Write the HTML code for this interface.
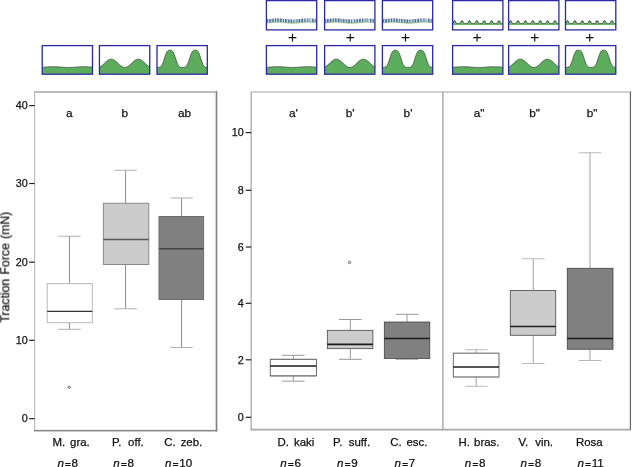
<!DOCTYPE html>
<html><head><meta charset="utf-8"><title>Traction force boxplots</title>
<style>
html,body{margin:0;padding:0;background:#fff;}
body{width:632px;height:467px;overflow:hidden;}
svg{display:block;font-family:'Liberation Sans', Arial, Helvetica, sans-serif;}
text{filter:blur(0.3px);stroke:#111;stroke-width:0.25px;}
</style></head><body>
<svg width="632" height="467" viewBox="0 0 632 467">
<rect width="632" height="467" fill="#ffffff"/>
<path d="M42.20 67.32 L42.92 67.27 L43.64 67.22 L44.36 67.17 L45.07 67.12 L45.79 67.06 L46.51 67.00 L47.23 66.95 L47.95 66.90 L48.67 66.85 L49.39 66.81 L50.10 66.77 L50.82 66.74 L51.54 66.72 L52.26 66.71 L52.98 66.70 L53.70 66.70 L54.42 66.71 L55.13 66.73 L55.85 66.75 L56.57 66.79 L57.29 66.83 L58.01 66.87 L58.73 66.92 L59.45 66.97 L60.16 67.03 L60.88 67.08 L61.60 67.14 L62.32 67.19 L63.04 67.24 L63.76 67.29 L64.48 67.33 L65.19 67.37 L65.91 67.40 L66.63 67.43 L67.35 67.44 L68.07 67.45 L68.79 67.45 L69.51 67.44 L70.22 67.42 L70.94 67.40 L71.66 67.37 L72.38 67.33 L73.10 67.29 L73.82 67.24 L74.54 67.19 L75.25 67.13 L75.97 67.08 L76.69 67.02 L77.41 66.97 L78.13 66.92 L78.85 66.87 L79.57 66.82 L80.28 66.78 L81.00 66.75 L81.72 66.73 L82.44 66.71 L83.16 66.70 L83.88 66.70 L84.60 66.71 L85.31 66.72 L86.03 66.75 L86.75 66.78 L87.47 66.81 L88.19 66.86 L88.91 66.90 L89.63 66.96 L90.34 67.01 L91.06 67.06 L91.78 67.12 L92.50 67.17 L92.50 74.20 L42.20 74.20 Z" fill="#5dac5d"/>
<path d="M42.20 67.32 L42.92 67.27 L43.64 67.22 L44.36 67.17 L45.07 67.12 L45.79 67.06 L46.51 67.00 L47.23 66.95 L47.95 66.90 L48.67 66.85 L49.39 66.81 L50.10 66.77 L50.82 66.74 L51.54 66.72 L52.26 66.71 L52.98 66.70 L53.70 66.70 L54.42 66.71 L55.13 66.73 L55.85 66.75 L56.57 66.79 L57.29 66.83 L58.01 66.87 L58.73 66.92 L59.45 66.97 L60.16 67.03 L60.88 67.08 L61.60 67.14 L62.32 67.19 L63.04 67.24 L63.76 67.29 L64.48 67.33 L65.19 67.37 L65.91 67.40 L66.63 67.43 L67.35 67.44 L68.07 67.45 L68.79 67.45 L69.51 67.44 L70.22 67.42 L70.94 67.40 L71.66 67.37 L72.38 67.33 L73.10 67.29 L73.82 67.24 L74.54 67.19 L75.25 67.13 L75.97 67.08 L76.69 67.02 L77.41 66.97 L78.13 66.92 L78.85 66.87 L79.57 66.82 L80.28 66.78 L81.00 66.75 L81.72 66.73 L82.44 66.71 L83.16 66.70 L83.88 66.70 L84.60 66.71 L85.31 66.72 L86.03 66.75 L86.75 66.78 L87.47 66.81 L88.19 66.86 L88.91 66.90 L89.63 66.96 L90.34 67.01 L91.06 67.06 L91.78 67.12 L92.50 67.17" fill="none" stroke="#3a4a38" stroke-width="0.75"/>
<rect x="42.20" y="45.60" width="50.30" height="28.60" fill="none" stroke="#2a2aa6" stroke-width="1.3"/>
<path d="M99.45 67.09 L100.17 66.76 L100.89 66.33 L101.61 65.82 L102.32 65.24 L103.04 64.61 L103.76 63.94 L104.48 63.25 L105.20 62.56 L105.92 61.89 L106.64 61.26 L107.35 60.69 L108.07 60.19 L108.79 59.78 L109.51 59.46 L110.23 59.25 L110.95 59.16 L111.67 59.17 L112.38 59.31 L113.10 59.55 L113.82 59.89 L114.54 60.33 L115.26 60.86 L115.98 61.45 L116.70 62.09 L117.41 62.76 L118.13 63.45 L118.85 64.14 L119.57 64.80 L120.29 65.42 L121.01 65.98 L121.73 66.47 L122.44 66.87 L123.16 67.17 L123.88 67.37 L124.60 67.45 L125.32 67.41 L126.04 67.27 L126.76 67.01 L127.47 66.65 L128.19 66.20 L128.91 65.66 L129.63 65.07 L130.35 64.42 L131.07 63.74 L131.79 63.05 L132.50 62.37 L133.22 61.71 L133.94 61.09 L134.66 60.54 L135.38 60.07 L136.10 59.68 L136.82 59.39 L137.53 59.22 L138.25 59.15 L138.97 59.20 L139.69 59.36 L140.41 59.64 L141.13 60.01 L141.85 60.48 L142.56 61.02 L143.28 61.62 L144.00 62.28 L144.72 62.96 L145.44 63.65 L146.16 64.33 L146.88 64.98 L147.59 65.59 L148.31 66.13 L149.03 66.59 L149.75 66.97 L149.75 74.20 L99.45 74.20 Z" fill="#5dac5d"/>
<path d="M99.45 67.09 L100.17 66.76 L100.89 66.33 L101.61 65.82 L102.32 65.24 L103.04 64.61 L103.76 63.94 L104.48 63.25 L105.20 62.56 L105.92 61.89 L106.64 61.26 L107.35 60.69 L108.07 60.19 L108.79 59.78 L109.51 59.46 L110.23 59.25 L110.95 59.16 L111.67 59.17 L112.38 59.31 L113.10 59.55 L113.82 59.89 L114.54 60.33 L115.26 60.86 L115.98 61.45 L116.70 62.09 L117.41 62.76 L118.13 63.45 L118.85 64.14 L119.57 64.80 L120.29 65.42 L121.01 65.98 L121.73 66.47 L122.44 66.87 L123.16 67.17 L123.88 67.37 L124.60 67.45 L125.32 67.41 L126.04 67.27 L126.76 67.01 L127.47 66.65 L128.19 66.20 L128.91 65.66 L129.63 65.07 L130.35 64.42 L131.07 63.74 L131.79 63.05 L132.50 62.37 L133.22 61.71 L133.94 61.09 L134.66 60.54 L135.38 60.07 L136.10 59.68 L136.82 59.39 L137.53 59.22 L138.25 59.15 L138.97 59.20 L139.69 59.36 L140.41 59.64 L141.13 60.01 L141.85 60.48 L142.56 61.02 L143.28 61.62 L144.00 62.28 L144.72 62.96 L145.44 63.65 L146.16 64.33 L146.88 64.98 L147.59 65.59 L148.31 66.13 L149.03 66.59 L149.75 66.97" fill="none" stroke="#3a4a38" stroke-width="0.75"/>
<rect x="99.45" y="45.60" width="50.30" height="28.60" fill="none" stroke="#2a2aa6" stroke-width="1.3"/>
<path d="M157.00 67.45 L157.72 67.43 L158.44 67.40 L159.16 67.30 L159.87 67.09 L160.59 66.68 L161.31 65.96 L162.03 64.85 L162.75 63.30 L163.47 61.36 L164.19 59.16 L164.90 56.91 L165.62 54.81 L166.34 53.05 L167.06 51.72 L167.78 50.85 L168.50 50.37 L169.22 50.18 L169.93 50.15 L170.65 50.17 L171.37 50.32 L172.09 50.73 L172.81 51.53 L173.53 52.77 L174.25 54.46 L174.96 56.50 L175.68 58.74 L176.40 60.97 L177.12 62.97 L177.84 64.60 L178.56 65.79 L179.28 66.58 L179.99 67.04 L180.71 67.28 L181.43 67.38 L182.15 67.42 L182.87 67.43 L183.59 67.40 L184.31 67.31 L185.02 67.11 L185.74 66.72 L186.46 66.03 L187.18 64.94 L187.90 63.42 L188.62 61.50 L189.34 59.32 L190.05 57.06 L190.77 54.95 L191.49 53.16 L192.21 51.80 L192.93 50.89 L193.65 50.39 L194.37 50.19 L195.08 50.15 L195.80 50.16 L196.52 50.30 L197.24 50.69 L197.96 51.46 L198.68 52.67 L199.40 54.33 L200.11 56.35 L200.83 58.59 L201.55 60.82 L202.27 62.84 L202.99 64.50 L203.71 65.72 L204.43 66.53 L205.14 67.01 L205.86 67.26 L206.58 67.38 L207.30 67.43 L207.30 74.20 L157.00 74.20 Z" fill="#5dac5d"/>
<path d="M157.00 67.45 L157.72 67.43 L158.44 67.40 L159.16 67.30 L159.87 67.09 L160.59 66.68 L161.31 65.96 L162.03 64.85 L162.75 63.30 L163.47 61.36 L164.19 59.16 L164.90 56.91 L165.62 54.81 L166.34 53.05 L167.06 51.72 L167.78 50.85 L168.50 50.37 L169.22 50.18 L169.93 50.15 L170.65 50.17 L171.37 50.32 L172.09 50.73 L172.81 51.53 L173.53 52.77 L174.25 54.46 L174.96 56.50 L175.68 58.74 L176.40 60.97 L177.12 62.97 L177.84 64.60 L178.56 65.79 L179.28 66.58 L179.99 67.04 L180.71 67.28 L181.43 67.38 L182.15 67.42 L182.87 67.43 L183.59 67.40 L184.31 67.31 L185.02 67.11 L185.74 66.72 L186.46 66.03 L187.18 64.94 L187.90 63.42 L188.62 61.50 L189.34 59.32 L190.05 57.06 L190.77 54.95 L191.49 53.16 L192.21 51.80 L192.93 50.89 L193.65 50.39 L194.37 50.19 L195.08 50.15 L195.80 50.16 L196.52 50.30 L197.24 50.69 L197.96 51.46 L198.68 52.67 L199.40 54.33 L200.11 56.35 L200.83 58.59 L201.55 60.82 L202.27 62.84 L202.99 64.50 L203.71 65.72 L204.43 66.53 L205.14 67.01 L205.86 67.26 L206.58 67.38 L207.30 67.43" fill="none" stroke="#3a4a38" stroke-width="0.75"/>
<rect x="157.00" y="45.60" width="50.30" height="28.60" fill="none" stroke="#2a2aa6" stroke-width="1.3"/>
<line x1="267.61" y1="19.14" x2="267.61" y2="22.74" stroke="#1f4c7c" stroke-width="0.85" stroke-opacity="1.00"/>
<line x1="269.24" y1="18.96" x2="269.24" y2="22.56" stroke="#1f4c7c" stroke-width="0.85" stroke-opacity="1.00"/>
<line x1="270.67" y1="18.80" x2="270.67" y2="22.40" stroke="#1f4c7c" stroke-width="0.85" stroke-opacity="1.00"/>
<line x1="272.27" y1="18.63" x2="272.27" y2="22.23" stroke="#1f4c7c" stroke-width="0.85" stroke-opacity="1.00"/>
<line x1="273.84" y1="18.49" x2="273.84" y2="22.09" stroke="#1f4c7c" stroke-width="0.85" stroke-opacity="1.00"/>
<line x1="275.51" y1="18.39" x2="275.51" y2="21.99" stroke="#1f4c7c" stroke-width="0.85" stroke-opacity="1.00"/>
<line x1="277.21" y1="18.35" x2="277.21" y2="21.95" stroke="#1f4c7c" stroke-width="0.85" stroke-opacity="1.00"/>
<line x1="278.70" y1="18.37" x2="278.70" y2="21.97" stroke="#1f4c7c" stroke-width="0.85" stroke-opacity="1.00"/>
<line x1="280.38" y1="18.45" x2="280.38" y2="22.05" stroke="#1f4c7c" stroke-width="0.85" stroke-opacity="1.00"/>
<line x1="281.82" y1="18.56" x2="281.82" y2="22.16" stroke="#1f4c7c" stroke-width="0.85" stroke-opacity="1.00"/>
<line x1="283.67" y1="18.75" x2="283.67" y2="22.35" stroke="#1f4c7c" stroke-width="0.85" stroke-opacity="1.00"/>
<line x1="285.41" y1="18.95" x2="285.41" y2="22.55" stroke="#1f4c7c" stroke-width="0.85" stroke-opacity="1.00"/>
<line x1="286.82" y1="19.10" x2="286.82" y2="22.70" stroke="#1f4c7c" stroke-width="0.85" stroke-opacity="1.00"/>
<line x1="288.61" y1="19.27" x2="288.61" y2="22.87" stroke="#1f4c7c" stroke-width="0.85" stroke-opacity="1.00"/>
<line x1="289.99" y1="19.37" x2="289.99" y2="22.97" stroke="#1f4c7c" stroke-width="0.85" stroke-opacity="1.00"/>
<line x1="291.44" y1="19.43" x2="291.44" y2="23.03" stroke="#1f4c7c" stroke-width="0.85" stroke-opacity="1.00"/>
<line x1="293.16" y1="19.45" x2="293.16" y2="23.05" stroke="#1f4c7c" stroke-width="0.85" stroke-opacity="1.00"/>
<line x1="294.63" y1="19.40" x2="294.63" y2="23.00" stroke="#1f4c7c" stroke-width="0.85" stroke-opacity="0.55"/>
<line x1="296.16" y1="19.31" x2="296.16" y2="22.91" stroke="#1f4c7c" stroke-width="0.85" stroke-opacity="1.00"/>
<line x1="297.95" y1="19.15" x2="297.95" y2="22.75" stroke="#1f4c7c" stroke-width="0.85" stroke-opacity="1.00"/>
<line x1="299.44" y1="18.99" x2="299.44" y2="22.59" stroke="#1f4c7c" stroke-width="0.85" stroke-opacity="1.00"/>
<line x1="301.20" y1="18.79" x2="301.20" y2="22.39" stroke="#1f4c7c" stroke-width="0.85" stroke-opacity="1.00"/>
<line x1="302.46" y1="18.65" x2="302.46" y2="22.25" stroke="#1f4c7c" stroke-width="0.85" stroke-opacity="1.00"/>
<line x1="304.27" y1="18.49" x2="304.27" y2="22.09" stroke="#1f4c7c" stroke-width="0.85" stroke-opacity="1.00"/>
<line x1="305.82" y1="18.40" x2="305.82" y2="22.00" stroke="#1f4c7c" stroke-width="0.85" stroke-opacity="0.85"/>
<line x1="307.43" y1="18.35" x2="307.43" y2="21.95" stroke="#1f4c7c" stroke-width="0.85" stroke-opacity="0.70"/>
<line x1="308.97" y1="18.37" x2="308.97" y2="21.97" stroke="#1f4c7c" stroke-width="0.85" stroke-opacity="1.00"/>
<line x1="310.78" y1="18.45" x2="310.78" y2="22.05" stroke="#1f4c7c" stroke-width="0.85" stroke-opacity="0.55"/>
<line x1="312.36" y1="18.58" x2="312.36" y2="22.18" stroke="#1f4c7c" stroke-width="0.85" stroke-opacity="1.00"/>
<line x1="313.85" y1="18.73" x2="313.85" y2="22.33" stroke="#1f4c7c" stroke-width="0.85" stroke-opacity="1.00"/>
<line x1="315.40" y1="18.90" x2="315.40" y2="22.50" stroke="#1f4c7c" stroke-width="0.85" stroke-opacity="0.85"/>
<path d="M266.80 23.02 L268.86 22.81 L270.93 22.57 L272.99 22.36 L275.05 22.21 L277.11 22.15 L279.18 22.19 L281.24 22.31 L283.30 22.51 L285.36 22.74 L287.43 22.96 L289.49 23.14 L291.55 23.24 L293.61 23.24 L295.68 23.14 L297.74 22.97 L299.80 22.75 L301.86 22.51 L303.93 22.32 L305.99 22.19 L308.05 22.15 L310.11 22.21 L312.18 22.36 L314.24 22.57 L316.30 22.80" fill="none" stroke="#6fae6f" stroke-width="0.7"/>
<rect x="266.40" y="0.60" width="50.30" height="29.30" fill="none" stroke="#2a2aa6" stroke-width="1.3"/>
<path d="M266.40 67.32 L267.12 67.27 L267.84 67.22 L268.56 67.17 L269.27 67.12 L269.99 67.06 L270.71 67.00 L271.43 66.95 L272.15 66.90 L272.87 66.85 L273.59 66.81 L274.30 66.77 L275.02 66.74 L275.74 66.72 L276.46 66.71 L277.18 66.70 L277.90 66.70 L278.62 66.71 L279.33 66.73 L280.05 66.75 L280.77 66.79 L281.49 66.83 L282.21 66.87 L282.93 66.92 L283.65 66.97 L284.36 67.03 L285.08 67.08 L285.80 67.14 L286.52 67.19 L287.24 67.24 L287.96 67.29 L288.68 67.33 L289.39 67.37 L290.11 67.40 L290.83 67.43 L291.55 67.44 L292.27 67.45 L292.99 67.45 L293.71 67.44 L294.42 67.42 L295.14 67.40 L295.86 67.37 L296.58 67.33 L297.30 67.29 L298.02 67.24 L298.74 67.19 L299.45 67.13 L300.17 67.08 L300.89 67.02 L301.61 66.97 L302.33 66.92 L303.05 66.87 L303.77 66.82 L304.48 66.78 L305.20 66.75 L305.92 66.73 L306.64 66.71 L307.36 66.70 L308.08 66.70 L308.80 66.71 L309.51 66.72 L310.23 66.75 L310.95 66.78 L311.67 66.81 L312.39 66.86 L313.11 66.90 L313.83 66.96 L314.54 67.01 L315.26 67.06 L315.98 67.12 L316.70 67.17 L316.70 74.20 L266.40 74.20 Z" fill="#5dac5d"/>
<path d="M266.40 67.32 L267.12 67.27 L267.84 67.22 L268.56 67.17 L269.27 67.12 L269.99 67.06 L270.71 67.00 L271.43 66.95 L272.15 66.90 L272.87 66.85 L273.59 66.81 L274.30 66.77 L275.02 66.74 L275.74 66.72 L276.46 66.71 L277.18 66.70 L277.90 66.70 L278.62 66.71 L279.33 66.73 L280.05 66.75 L280.77 66.79 L281.49 66.83 L282.21 66.87 L282.93 66.92 L283.65 66.97 L284.36 67.03 L285.08 67.08 L285.80 67.14 L286.52 67.19 L287.24 67.24 L287.96 67.29 L288.68 67.33 L289.39 67.37 L290.11 67.40 L290.83 67.43 L291.55 67.44 L292.27 67.45 L292.99 67.45 L293.71 67.44 L294.42 67.42 L295.14 67.40 L295.86 67.37 L296.58 67.33 L297.30 67.29 L298.02 67.24 L298.74 67.19 L299.45 67.13 L300.17 67.08 L300.89 67.02 L301.61 66.97 L302.33 66.92 L303.05 66.87 L303.77 66.82 L304.48 66.78 L305.20 66.75 L305.92 66.73 L306.64 66.71 L307.36 66.70 L308.08 66.70 L308.80 66.71 L309.51 66.72 L310.23 66.75 L310.95 66.78 L311.67 66.81 L312.39 66.86 L313.11 66.90 L313.83 66.96 L314.54 67.01 L315.26 67.06 L315.98 67.12 L316.70 67.17" fill="none" stroke="#3a4a38" stroke-width="0.75"/>
<rect x="266.40" y="45.60" width="50.30" height="28.60" fill="none" stroke="#2a2aa6" stroke-width="1.3"/>
<path d="M288.65 37.60 H296.35 M292.50 33.75 V41.45" stroke="#111" stroke-width="1.15" fill="none"/>
<line x1="325.81" y1="19.14" x2="325.81" y2="22.74" stroke="#1f4c7c" stroke-width="0.85" stroke-opacity="1.00"/>
<line x1="327.44" y1="18.96" x2="327.44" y2="22.56" stroke="#1f4c7c" stroke-width="0.85" stroke-opacity="1.00"/>
<line x1="328.87" y1="18.80" x2="328.87" y2="22.40" stroke="#1f4c7c" stroke-width="0.85" stroke-opacity="1.00"/>
<line x1="330.47" y1="18.63" x2="330.47" y2="22.23" stroke="#1f4c7c" stroke-width="0.85" stroke-opacity="1.00"/>
<line x1="332.04" y1="18.49" x2="332.04" y2="22.09" stroke="#1f4c7c" stroke-width="0.85" stroke-opacity="1.00"/>
<line x1="333.71" y1="18.39" x2="333.71" y2="21.99" stroke="#1f4c7c" stroke-width="0.85" stroke-opacity="1.00"/>
<line x1="335.41" y1="18.35" x2="335.41" y2="21.95" stroke="#1f4c7c" stroke-width="0.85" stroke-opacity="1.00"/>
<line x1="336.90" y1="18.37" x2="336.90" y2="21.97" stroke="#1f4c7c" stroke-width="0.85" stroke-opacity="1.00"/>
<line x1="338.58" y1="18.45" x2="338.58" y2="22.05" stroke="#1f4c7c" stroke-width="0.85" stroke-opacity="1.00"/>
<line x1="340.02" y1="18.56" x2="340.02" y2="22.16" stroke="#1f4c7c" stroke-width="0.85" stroke-opacity="1.00"/>
<line x1="341.87" y1="18.75" x2="341.87" y2="22.35" stroke="#1f4c7c" stroke-width="0.85" stroke-opacity="1.00"/>
<line x1="343.61" y1="18.95" x2="343.61" y2="22.55" stroke="#1f4c7c" stroke-width="0.85" stroke-opacity="1.00"/>
<line x1="345.02" y1="19.10" x2="345.02" y2="22.70" stroke="#1f4c7c" stroke-width="0.85" stroke-opacity="1.00"/>
<line x1="346.81" y1="19.27" x2="346.81" y2="22.87" stroke="#1f4c7c" stroke-width="0.85" stroke-opacity="1.00"/>
<line x1="348.19" y1="19.37" x2="348.19" y2="22.97" stroke="#1f4c7c" stroke-width="0.85" stroke-opacity="1.00"/>
<line x1="349.64" y1="19.43" x2="349.64" y2="23.03" stroke="#1f4c7c" stroke-width="0.85" stroke-opacity="1.00"/>
<line x1="351.36" y1="19.45" x2="351.36" y2="23.05" stroke="#1f4c7c" stroke-width="0.85" stroke-opacity="1.00"/>
<line x1="352.83" y1="19.40" x2="352.83" y2="23.00" stroke="#1f4c7c" stroke-width="0.85" stroke-opacity="0.55"/>
<line x1="354.36" y1="19.31" x2="354.36" y2="22.91" stroke="#1f4c7c" stroke-width="0.85" stroke-opacity="1.00"/>
<line x1="356.15" y1="19.15" x2="356.15" y2="22.75" stroke="#1f4c7c" stroke-width="0.85" stroke-opacity="1.00"/>
<line x1="357.64" y1="18.99" x2="357.64" y2="22.59" stroke="#1f4c7c" stroke-width="0.85" stroke-opacity="1.00"/>
<line x1="359.40" y1="18.79" x2="359.40" y2="22.39" stroke="#1f4c7c" stroke-width="0.85" stroke-opacity="1.00"/>
<line x1="360.66" y1="18.65" x2="360.66" y2="22.25" stroke="#1f4c7c" stroke-width="0.85" stroke-opacity="1.00"/>
<line x1="362.47" y1="18.49" x2="362.47" y2="22.09" stroke="#1f4c7c" stroke-width="0.85" stroke-opacity="1.00"/>
<line x1="364.02" y1="18.40" x2="364.02" y2="22.00" stroke="#1f4c7c" stroke-width="0.85" stroke-opacity="0.85"/>
<line x1="365.63" y1="18.35" x2="365.63" y2="21.95" stroke="#1f4c7c" stroke-width="0.85" stroke-opacity="0.70"/>
<line x1="367.17" y1="18.37" x2="367.17" y2="21.97" stroke="#1f4c7c" stroke-width="0.85" stroke-opacity="1.00"/>
<line x1="368.98" y1="18.45" x2="368.98" y2="22.05" stroke="#1f4c7c" stroke-width="0.85" stroke-opacity="0.55"/>
<line x1="370.56" y1="18.58" x2="370.56" y2="22.18" stroke="#1f4c7c" stroke-width="0.85" stroke-opacity="1.00"/>
<line x1="372.05" y1="18.73" x2="372.05" y2="22.33" stroke="#1f4c7c" stroke-width="0.85" stroke-opacity="1.00"/>
<line x1="373.60" y1="18.90" x2="373.60" y2="22.50" stroke="#1f4c7c" stroke-width="0.85" stroke-opacity="0.85"/>
<path d="M325.00 23.02 L327.06 22.81 L329.12 22.57 L331.19 22.36 L333.25 22.21 L335.31 22.15 L337.38 22.19 L339.44 22.31 L341.50 22.51 L343.56 22.74 L345.62 22.96 L347.69 23.14 L349.75 23.24 L351.81 23.24 L353.88 23.14 L355.94 22.97 L358.00 22.75 L360.06 22.51 L362.12 22.32 L364.19 22.19 L366.25 22.15 L368.31 22.21 L370.38 22.36 L372.44 22.57 L374.50 22.80" fill="none" stroke="#6fae6f" stroke-width="0.7"/>
<rect x="324.60" y="0.60" width="50.30" height="29.30" fill="none" stroke="#2a2aa6" stroke-width="1.3"/>
<path d="M324.60 67.09 L325.32 66.76 L326.04 66.33 L326.76 65.82 L327.47 65.24 L328.19 64.61 L328.91 63.94 L329.63 63.25 L330.35 62.56 L331.07 61.89 L331.79 61.26 L332.50 60.69 L333.22 60.19 L333.94 59.78 L334.66 59.46 L335.38 59.25 L336.10 59.16 L336.82 59.17 L337.53 59.31 L338.25 59.55 L338.97 59.89 L339.69 60.33 L340.41 60.86 L341.13 61.45 L341.85 62.09 L342.56 62.76 L343.28 63.45 L344.00 64.14 L344.72 64.80 L345.44 65.42 L346.16 65.98 L346.88 66.47 L347.59 66.87 L348.31 67.17 L349.03 67.37 L349.75 67.45 L350.47 67.41 L351.19 67.27 L351.91 67.01 L352.62 66.65 L353.34 66.20 L354.06 65.66 L354.78 65.07 L355.50 64.42 L356.22 63.74 L356.94 63.05 L357.65 62.37 L358.37 61.71 L359.09 61.09 L359.81 60.54 L360.53 60.07 L361.25 59.68 L361.97 59.39 L362.68 59.22 L363.40 59.15 L364.12 59.20 L364.84 59.36 L365.56 59.64 L366.28 60.01 L367.00 60.48 L367.71 61.02 L368.43 61.62 L369.15 62.28 L369.87 62.96 L370.59 63.65 L371.31 64.33 L372.03 64.98 L372.74 65.59 L373.46 66.13 L374.18 66.59 L374.90 66.97 L374.90 74.20 L324.60 74.20 Z" fill="#5dac5d"/>
<path d="M324.60 67.09 L325.32 66.76 L326.04 66.33 L326.76 65.82 L327.47 65.24 L328.19 64.61 L328.91 63.94 L329.63 63.25 L330.35 62.56 L331.07 61.89 L331.79 61.26 L332.50 60.69 L333.22 60.19 L333.94 59.78 L334.66 59.46 L335.38 59.25 L336.10 59.16 L336.82 59.17 L337.53 59.31 L338.25 59.55 L338.97 59.89 L339.69 60.33 L340.41 60.86 L341.13 61.45 L341.85 62.09 L342.56 62.76 L343.28 63.45 L344.00 64.14 L344.72 64.80 L345.44 65.42 L346.16 65.98 L346.88 66.47 L347.59 66.87 L348.31 67.17 L349.03 67.37 L349.75 67.45 L350.47 67.41 L351.19 67.27 L351.91 67.01 L352.62 66.65 L353.34 66.20 L354.06 65.66 L354.78 65.07 L355.50 64.42 L356.22 63.74 L356.94 63.05 L357.65 62.37 L358.37 61.71 L359.09 61.09 L359.81 60.54 L360.53 60.07 L361.25 59.68 L361.97 59.39 L362.68 59.22 L363.40 59.15 L364.12 59.20 L364.84 59.36 L365.56 59.64 L366.28 60.01 L367.00 60.48 L367.71 61.02 L368.43 61.62 L369.15 62.28 L369.87 62.96 L370.59 63.65 L371.31 64.33 L372.03 64.98 L372.74 65.59 L373.46 66.13 L374.18 66.59 L374.90 66.97" fill="none" stroke="#3a4a38" stroke-width="0.75"/>
<rect x="324.60" y="45.60" width="50.30" height="28.60" fill="none" stroke="#2a2aa6" stroke-width="1.3"/>
<path d="M346.40 37.60 H354.10 M350.25 33.75 V41.45" stroke="#111" stroke-width="1.15" fill="none"/>
<line x1="383.61" y1="19.14" x2="383.61" y2="22.74" stroke="#1f4c7c" stroke-width="0.85" stroke-opacity="1.00"/>
<line x1="385.24" y1="18.96" x2="385.24" y2="22.56" stroke="#1f4c7c" stroke-width="0.85" stroke-opacity="1.00"/>
<line x1="386.67" y1="18.80" x2="386.67" y2="22.40" stroke="#1f4c7c" stroke-width="0.85" stroke-opacity="1.00"/>
<line x1="388.27" y1="18.63" x2="388.27" y2="22.23" stroke="#1f4c7c" stroke-width="0.85" stroke-opacity="1.00"/>
<line x1="389.84" y1="18.49" x2="389.84" y2="22.09" stroke="#1f4c7c" stroke-width="0.85" stroke-opacity="1.00"/>
<line x1="391.51" y1="18.39" x2="391.51" y2="21.99" stroke="#1f4c7c" stroke-width="0.85" stroke-opacity="1.00"/>
<line x1="393.21" y1="18.35" x2="393.21" y2="21.95" stroke="#1f4c7c" stroke-width="0.85" stroke-opacity="1.00"/>
<line x1="394.70" y1="18.37" x2="394.70" y2="21.97" stroke="#1f4c7c" stroke-width="0.85" stroke-opacity="1.00"/>
<line x1="396.38" y1="18.45" x2="396.38" y2="22.05" stroke="#1f4c7c" stroke-width="0.85" stroke-opacity="1.00"/>
<line x1="397.82" y1="18.56" x2="397.82" y2="22.16" stroke="#1f4c7c" stroke-width="0.85" stroke-opacity="1.00"/>
<line x1="399.67" y1="18.75" x2="399.67" y2="22.35" stroke="#1f4c7c" stroke-width="0.85" stroke-opacity="1.00"/>
<line x1="401.41" y1="18.95" x2="401.41" y2="22.55" stroke="#1f4c7c" stroke-width="0.85" stroke-opacity="1.00"/>
<line x1="402.82" y1="19.10" x2="402.82" y2="22.70" stroke="#1f4c7c" stroke-width="0.85" stroke-opacity="1.00"/>
<line x1="404.61" y1="19.27" x2="404.61" y2="22.87" stroke="#1f4c7c" stroke-width="0.85" stroke-opacity="1.00"/>
<line x1="405.99" y1="19.37" x2="405.99" y2="22.97" stroke="#1f4c7c" stroke-width="0.85" stroke-opacity="1.00"/>
<line x1="407.44" y1="19.43" x2="407.44" y2="23.03" stroke="#1f4c7c" stroke-width="0.85" stroke-opacity="1.00"/>
<line x1="409.16" y1="19.45" x2="409.16" y2="23.05" stroke="#1f4c7c" stroke-width="0.85" stroke-opacity="1.00"/>
<line x1="410.63" y1="19.40" x2="410.63" y2="23.00" stroke="#1f4c7c" stroke-width="0.85" stroke-opacity="0.55"/>
<line x1="412.16" y1="19.31" x2="412.16" y2="22.91" stroke="#1f4c7c" stroke-width="0.85" stroke-opacity="1.00"/>
<line x1="413.95" y1="19.15" x2="413.95" y2="22.75" stroke="#1f4c7c" stroke-width="0.85" stroke-opacity="1.00"/>
<line x1="415.44" y1="18.99" x2="415.44" y2="22.59" stroke="#1f4c7c" stroke-width="0.85" stroke-opacity="1.00"/>
<line x1="417.20" y1="18.79" x2="417.20" y2="22.39" stroke="#1f4c7c" stroke-width="0.85" stroke-opacity="1.00"/>
<line x1="418.46" y1="18.65" x2="418.46" y2="22.25" stroke="#1f4c7c" stroke-width="0.85" stroke-opacity="1.00"/>
<line x1="420.27" y1="18.49" x2="420.27" y2="22.09" stroke="#1f4c7c" stroke-width="0.85" stroke-opacity="1.00"/>
<line x1="421.82" y1="18.40" x2="421.82" y2="22.00" stroke="#1f4c7c" stroke-width="0.85" stroke-opacity="0.85"/>
<line x1="423.43" y1="18.35" x2="423.43" y2="21.95" stroke="#1f4c7c" stroke-width="0.85" stroke-opacity="0.70"/>
<line x1="424.97" y1="18.37" x2="424.97" y2="21.97" stroke="#1f4c7c" stroke-width="0.85" stroke-opacity="1.00"/>
<line x1="426.78" y1="18.45" x2="426.78" y2="22.05" stroke="#1f4c7c" stroke-width="0.85" stroke-opacity="0.55"/>
<line x1="428.36" y1="18.58" x2="428.36" y2="22.18" stroke="#1f4c7c" stroke-width="0.85" stroke-opacity="1.00"/>
<line x1="429.85" y1="18.73" x2="429.85" y2="22.33" stroke="#1f4c7c" stroke-width="0.85" stroke-opacity="1.00"/>
<line x1="431.40" y1="18.90" x2="431.40" y2="22.50" stroke="#1f4c7c" stroke-width="0.85" stroke-opacity="0.85"/>
<path d="M382.80 23.02 L384.86 22.81 L386.93 22.57 L388.99 22.36 L391.05 22.21 L393.11 22.15 L395.18 22.19 L397.24 22.31 L399.30 22.51 L401.36 22.74 L403.43 22.96 L405.49 23.14 L407.55 23.24 L409.61 23.24 L411.68 23.14 L413.74 22.97 L415.80 22.75 L417.86 22.51 L419.93 22.32 L421.99 22.19 L424.05 22.15 L426.11 22.21 L428.18 22.36 L430.24 22.57 L432.30 22.80" fill="none" stroke="#6fae6f" stroke-width="0.7"/>
<rect x="382.40" y="0.60" width="50.30" height="29.30" fill="none" stroke="#2a2aa6" stroke-width="1.3"/>
<path d="M382.40 67.45 L383.12 67.43 L383.84 67.40 L384.56 67.30 L385.27 67.09 L385.99 66.68 L386.71 65.96 L387.43 64.85 L388.15 63.30 L388.87 61.36 L389.59 59.16 L390.30 56.91 L391.02 54.81 L391.74 53.05 L392.46 51.72 L393.18 50.85 L393.90 50.37 L394.62 50.18 L395.33 50.15 L396.05 50.17 L396.77 50.32 L397.49 50.73 L398.21 51.53 L398.93 52.77 L399.65 54.46 L400.36 56.50 L401.08 58.74 L401.80 60.97 L402.52 62.97 L403.24 64.60 L403.96 65.79 L404.68 66.58 L405.39 67.04 L406.11 67.28 L406.83 67.38 L407.55 67.42 L408.27 67.43 L408.99 67.40 L409.71 67.31 L410.42 67.11 L411.14 66.72 L411.86 66.03 L412.58 64.94 L413.30 63.42 L414.02 61.50 L414.74 59.32 L415.45 57.06 L416.17 54.95 L416.89 53.16 L417.61 51.80 L418.33 50.89 L419.05 50.39 L419.77 50.19 L420.48 50.15 L421.20 50.16 L421.92 50.30 L422.64 50.69 L423.36 51.46 L424.08 52.67 L424.80 54.33 L425.51 56.35 L426.23 58.59 L426.95 60.82 L427.67 62.84 L428.39 64.50 L429.11 65.72 L429.83 66.53 L430.54 67.01 L431.26 67.26 L431.98 67.38 L432.70 67.43 L432.70 74.20 L382.40 74.20 Z" fill="#5dac5d"/>
<path d="M382.40 67.45 L383.12 67.43 L383.84 67.40 L384.56 67.30 L385.27 67.09 L385.99 66.68 L386.71 65.96 L387.43 64.85 L388.15 63.30 L388.87 61.36 L389.59 59.16 L390.30 56.91 L391.02 54.81 L391.74 53.05 L392.46 51.72 L393.18 50.85 L393.90 50.37 L394.62 50.18 L395.33 50.15 L396.05 50.17 L396.77 50.32 L397.49 50.73 L398.21 51.53 L398.93 52.77 L399.65 54.46 L400.36 56.50 L401.08 58.74 L401.80 60.97 L402.52 62.97 L403.24 64.60 L403.96 65.79 L404.68 66.58 L405.39 67.04 L406.11 67.28 L406.83 67.38 L407.55 67.42 L408.27 67.43 L408.99 67.40 L409.71 67.31 L410.42 67.11 L411.14 66.72 L411.86 66.03 L412.58 64.94 L413.30 63.42 L414.02 61.50 L414.74 59.32 L415.45 57.06 L416.17 54.95 L416.89 53.16 L417.61 51.80 L418.33 50.89 L419.05 50.39 L419.77 50.19 L420.48 50.15 L421.20 50.16 L421.92 50.30 L422.64 50.69 L423.36 51.46 L424.08 52.67 L424.80 54.33 L425.51 56.35 L426.23 58.59 L426.95 60.82 L427.67 62.84 L428.39 64.50 L429.11 65.72 L429.83 66.53 L430.54 67.01 L431.26 67.26 L431.98 67.38 L432.70 67.43" fill="none" stroke="#3a4a38" stroke-width="0.75"/>
<rect x="382.40" y="45.60" width="50.30" height="28.60" fill="none" stroke="#2a2aa6" stroke-width="1.3"/>
<path d="M401.65 37.60 H409.35 M405.50 33.75 V41.45" stroke="#111" stroke-width="1.15" fill="none"/>
<path d="M452.60 23.43 L452.96 23.06 L453.32 22.30 L453.68 21.43 L454.04 20.85 L454.40 20.66 L454.76 20.65 L455.12 20.80 L455.47 21.33 L455.83 22.18 L456.19 22.98 L456.55 23.40 L456.91 23.53 L457.27 23.55 L457.63 23.55 L457.99 23.55 L458.35 23.55 L458.71 23.55 L459.07 23.55 L459.43 23.55 L459.79 23.51 L460.14 23.33 L460.50 22.79 L460.86 21.94 L461.22 21.15 L461.58 20.73 L461.94 20.65 L462.30 20.68 L462.66 20.97 L463.02 21.65 L463.38 22.54 L463.74 23.20 L464.10 23.48 L464.46 23.54 L464.82 23.55 L465.18 23.55 L465.53 23.55 L465.89 23.55 L466.25 23.55 L466.61 23.55 L466.97 23.54 L467.33 23.47 L467.69 23.16 L468.05 22.47 L468.41 21.59 L468.77 20.93 L469.13 20.67 L469.49 20.65 L469.85 20.75 L470.20 21.20 L470.56 22.01 L470.92 22.85 L471.28 23.35 L471.64 23.52 L472.00 23.55 L472.36 23.55 L472.72 23.55 L473.08 23.55 L473.44 23.55 L473.80 23.55 L474.16 23.55 L474.52 23.53 L474.88 23.38 L475.24 22.93 L475.59 22.11 L475.95 21.28 L476.31 20.78 L476.67 20.65 L477.03 20.66 L477.39 20.88 L477.75 21.49 L478.11 22.37 L478.47 23.10 L478.83 23.45 L479.19 23.54 L479.55 23.55 L479.91 23.55 L480.26 23.55 L480.62 23.55 L480.98 23.55 L481.34 23.55 L481.70 23.54 L482.06 23.49 L482.42 23.25 L482.78 22.63 L483.14 21.75 L483.50 21.02 L483.86 20.70 L484.22 20.65 L484.58 20.71 L484.94 21.08 L485.30 21.84 L485.65 22.71 L486.01 23.28 L486.37 23.50 L486.73 23.55 L487.09 23.55 L487.45 23.55 L487.81 23.55 L488.17 23.55 L488.53 23.55 L488.89 23.55 L489.25 23.53 L489.61 23.43 L489.97 23.05 L490.32 22.29 L490.68 21.42 L491.04 20.84 L491.40 20.66 L491.76 20.65 L492.12 20.81 L492.48 21.34 L492.84 22.20 L493.20 22.99 L493.56 23.41 L493.92 23.53 L494.28 23.55 L494.64 23.55 L495.00 23.55 L495.36 23.55 L495.71 23.55 L496.07 23.55 L496.43 23.55 L496.79 23.51 L497.15 23.32 L497.51 22.78 L497.87 21.92 L498.23 21.14 L498.59 20.73 L498.95 20.65 L499.31 20.68 L499.67 20.97 L500.03 21.67 L500.38 22.55 L500.74 23.20 L501.10 23.48 L501.46 23.54 L501.82 23.55 L502.18 23.55 L502.54 23.55 L502.90 23.55 L502.90 25.00 L452.60 25.00 Z" fill="#68bb68"/>
<path d="M452.60 23.43 L452.96 23.06 L453.32 22.30 L453.68 21.43 L454.04 20.85 L454.40 20.66 L454.76 20.65 L455.12 20.80 L455.47 21.33 L455.83 22.18 L456.19 22.98 L456.55 23.40 L456.91 23.53 L457.27 23.55 L457.63 23.55 L457.99 23.55 L458.35 23.55 L458.71 23.55 L459.07 23.55 L459.43 23.55 L459.79 23.51 L460.14 23.33 L460.50 22.79 L460.86 21.94 L461.22 21.15 L461.58 20.73 L461.94 20.65 L462.30 20.68 L462.66 20.97 L463.02 21.65 L463.38 22.54 L463.74 23.20 L464.10 23.48 L464.46 23.54 L464.82 23.55 L465.18 23.55 L465.53 23.55 L465.89 23.55 L466.25 23.55 L466.61 23.55 L466.97 23.54 L467.33 23.47 L467.69 23.16 L468.05 22.47 L468.41 21.59 L468.77 20.93 L469.13 20.67 L469.49 20.65 L469.85 20.75 L470.20 21.20 L470.56 22.01 L470.92 22.85 L471.28 23.35 L471.64 23.52 L472.00 23.55 L472.36 23.55 L472.72 23.55 L473.08 23.55 L473.44 23.55 L473.80 23.55 L474.16 23.55 L474.52 23.53 L474.88 23.38 L475.24 22.93 L475.59 22.11 L475.95 21.28 L476.31 20.78 L476.67 20.65 L477.03 20.66 L477.39 20.88 L477.75 21.49 L478.11 22.37 L478.47 23.10 L478.83 23.45 L479.19 23.54 L479.55 23.55 L479.91 23.55 L480.26 23.55 L480.62 23.55 L480.98 23.55 L481.34 23.55 L481.70 23.54 L482.06 23.49 L482.42 23.25 L482.78 22.63 L483.14 21.75 L483.50 21.02 L483.86 20.70 L484.22 20.65 L484.58 20.71 L484.94 21.08 L485.30 21.84 L485.65 22.71 L486.01 23.28 L486.37 23.50 L486.73 23.55 L487.09 23.55 L487.45 23.55 L487.81 23.55 L488.17 23.55 L488.53 23.55 L488.89 23.55 L489.25 23.53 L489.61 23.43 L489.97 23.05 L490.32 22.29 L490.68 21.42 L491.04 20.84 L491.40 20.66 L491.76 20.65 L492.12 20.81 L492.48 21.34 L492.84 22.20 L493.20 22.99 L493.56 23.41 L493.92 23.53 L494.28 23.55 L494.64 23.55 L495.00 23.55 L495.36 23.55 L495.71 23.55 L496.07 23.55 L496.43 23.55 L496.79 23.51 L497.15 23.32 L497.51 22.78 L497.87 21.92 L498.23 21.14 L498.59 20.73 L498.95 20.65 L499.31 20.68 L499.67 20.97 L500.03 21.67 L500.38 22.55 L500.74 23.20 L501.10 23.48 L501.46 23.54 L501.82 23.55 L502.18 23.55 L502.54 23.55 L502.90 23.55" fill="none" stroke="#2c362c" stroke-width="0.85"/>
<rect x="452.60" y="0.60" width="50.30" height="29.30" fill="none" stroke="#2a2aa6" stroke-width="1.3"/>
<path d="M452.60 67.32 L453.32 67.27 L454.04 67.22 L454.76 67.17 L455.47 67.12 L456.19 67.06 L456.91 67.00 L457.63 66.95 L458.35 66.90 L459.07 66.85 L459.79 66.81 L460.50 66.77 L461.22 66.74 L461.94 66.72 L462.66 66.71 L463.38 66.70 L464.10 66.70 L464.82 66.71 L465.53 66.73 L466.25 66.75 L466.97 66.79 L467.69 66.83 L468.41 66.87 L469.13 66.92 L469.85 66.97 L470.56 67.03 L471.28 67.08 L472.00 67.14 L472.72 67.19 L473.44 67.24 L474.16 67.29 L474.88 67.33 L475.59 67.37 L476.31 67.40 L477.03 67.43 L477.75 67.44 L478.47 67.45 L479.19 67.45 L479.91 67.44 L480.62 67.42 L481.34 67.40 L482.06 67.37 L482.78 67.33 L483.50 67.29 L484.22 67.24 L484.94 67.19 L485.65 67.13 L486.37 67.08 L487.09 67.02 L487.81 66.97 L488.53 66.92 L489.25 66.87 L489.97 66.82 L490.68 66.78 L491.40 66.75 L492.12 66.73 L492.84 66.71 L493.56 66.70 L494.28 66.70 L495.00 66.71 L495.71 66.72 L496.43 66.75 L497.15 66.78 L497.87 66.81 L498.59 66.86 L499.31 66.90 L500.03 66.96 L500.74 67.01 L501.46 67.06 L502.18 67.12 L502.90 67.17 L502.90 74.20 L452.60 74.20 Z" fill="#5dac5d"/>
<path d="M452.60 67.32 L453.32 67.27 L454.04 67.22 L454.76 67.17 L455.47 67.12 L456.19 67.06 L456.91 67.00 L457.63 66.95 L458.35 66.90 L459.07 66.85 L459.79 66.81 L460.50 66.77 L461.22 66.74 L461.94 66.72 L462.66 66.71 L463.38 66.70 L464.10 66.70 L464.82 66.71 L465.53 66.73 L466.25 66.75 L466.97 66.79 L467.69 66.83 L468.41 66.87 L469.13 66.92 L469.85 66.97 L470.56 67.03 L471.28 67.08 L472.00 67.14 L472.72 67.19 L473.44 67.24 L474.16 67.29 L474.88 67.33 L475.59 67.37 L476.31 67.40 L477.03 67.43 L477.75 67.44 L478.47 67.45 L479.19 67.45 L479.91 67.44 L480.62 67.42 L481.34 67.40 L482.06 67.37 L482.78 67.33 L483.50 67.29 L484.22 67.24 L484.94 67.19 L485.65 67.13 L486.37 67.08 L487.09 67.02 L487.81 66.97 L488.53 66.92 L489.25 66.87 L489.97 66.82 L490.68 66.78 L491.40 66.75 L492.12 66.73 L492.84 66.71 L493.56 66.70 L494.28 66.70 L495.00 66.71 L495.71 66.72 L496.43 66.75 L497.15 66.78 L497.87 66.81 L498.59 66.86 L499.31 66.90 L500.03 66.96 L500.74 67.01 L501.46 67.06 L502.18 67.12 L502.90 67.17" fill="none" stroke="#3a4a38" stroke-width="0.75"/>
<rect x="452.60" y="45.60" width="50.30" height="28.60" fill="none" stroke="#2a2aa6" stroke-width="1.3"/>
<path d="M473.25 37.60 H480.95 M477.10 33.75 V41.45" stroke="#111" stroke-width="1.15" fill="none"/>
<path d="M508.60 23.43 L508.96 23.06 L509.32 22.30 L509.68 21.43 L510.04 20.85 L510.40 20.66 L510.76 20.65 L511.12 20.80 L511.47 21.33 L511.83 22.18 L512.19 22.98 L512.55 23.40 L512.91 23.53 L513.27 23.55 L513.63 23.55 L513.99 23.55 L514.35 23.55 L514.71 23.55 L515.07 23.55 L515.43 23.55 L515.79 23.51 L516.14 23.33 L516.50 22.79 L516.86 21.94 L517.22 21.15 L517.58 20.73 L517.94 20.65 L518.30 20.68 L518.66 20.97 L519.02 21.65 L519.38 22.54 L519.74 23.20 L520.10 23.48 L520.46 23.54 L520.82 23.55 L521.17 23.55 L521.53 23.55 L521.89 23.55 L522.25 23.55 L522.61 23.55 L522.97 23.54 L523.33 23.47 L523.69 23.16 L524.05 22.47 L524.41 21.59 L524.77 20.93 L525.13 20.67 L525.49 20.65 L525.85 20.75 L526.21 21.20 L526.56 22.01 L526.92 22.85 L527.28 23.35 L527.64 23.52 L528.00 23.55 L528.36 23.55 L528.72 23.55 L529.08 23.55 L529.44 23.55 L529.80 23.55 L530.16 23.55 L530.52 23.53 L530.88 23.38 L531.24 22.93 L531.59 22.11 L531.95 21.28 L532.31 20.78 L532.67 20.65 L533.03 20.66 L533.39 20.88 L533.75 21.49 L534.11 22.37 L534.47 23.10 L534.83 23.45 L535.19 23.54 L535.55 23.55 L535.91 23.55 L536.26 23.55 L536.62 23.55 L536.98 23.55 L537.34 23.55 L537.70 23.54 L538.06 23.49 L538.42 23.25 L538.78 22.63 L539.14 21.75 L539.50 21.02 L539.86 20.70 L540.22 20.65 L540.58 20.71 L540.94 21.08 L541.29 21.84 L541.65 22.71 L542.01 23.28 L542.37 23.50 L542.73 23.55 L543.09 23.55 L543.45 23.55 L543.81 23.55 L544.17 23.55 L544.53 23.55 L544.89 23.55 L545.25 23.53 L545.61 23.43 L545.97 23.05 L546.33 22.29 L546.68 21.42 L547.04 20.84 L547.40 20.66 L547.76 20.65 L548.12 20.81 L548.48 21.34 L548.84 22.20 L549.20 22.99 L549.56 23.41 L549.92 23.53 L550.28 23.55 L550.64 23.55 L551.00 23.55 L551.36 23.55 L551.71 23.55 L552.07 23.55 L552.43 23.55 L552.79 23.51 L553.15 23.32 L553.51 22.78 L553.87 21.92 L554.23 21.14 L554.59 20.73 L554.95 20.65 L555.31 20.68 L555.67 20.97 L556.03 21.67 L556.38 22.55 L556.74 23.20 L557.10 23.48 L557.46 23.54 L557.82 23.55 L558.18 23.55 L558.54 23.55 L558.90 23.55 L558.90 25.00 L508.60 25.00 Z" fill="#68bb68"/>
<path d="M508.60 23.43 L508.96 23.06 L509.32 22.30 L509.68 21.43 L510.04 20.85 L510.40 20.66 L510.76 20.65 L511.12 20.80 L511.47 21.33 L511.83 22.18 L512.19 22.98 L512.55 23.40 L512.91 23.53 L513.27 23.55 L513.63 23.55 L513.99 23.55 L514.35 23.55 L514.71 23.55 L515.07 23.55 L515.43 23.55 L515.79 23.51 L516.14 23.33 L516.50 22.79 L516.86 21.94 L517.22 21.15 L517.58 20.73 L517.94 20.65 L518.30 20.68 L518.66 20.97 L519.02 21.65 L519.38 22.54 L519.74 23.20 L520.10 23.48 L520.46 23.54 L520.82 23.55 L521.17 23.55 L521.53 23.55 L521.89 23.55 L522.25 23.55 L522.61 23.55 L522.97 23.54 L523.33 23.47 L523.69 23.16 L524.05 22.47 L524.41 21.59 L524.77 20.93 L525.13 20.67 L525.49 20.65 L525.85 20.75 L526.21 21.20 L526.56 22.01 L526.92 22.85 L527.28 23.35 L527.64 23.52 L528.00 23.55 L528.36 23.55 L528.72 23.55 L529.08 23.55 L529.44 23.55 L529.80 23.55 L530.16 23.55 L530.52 23.53 L530.88 23.38 L531.24 22.93 L531.59 22.11 L531.95 21.28 L532.31 20.78 L532.67 20.65 L533.03 20.66 L533.39 20.88 L533.75 21.49 L534.11 22.37 L534.47 23.10 L534.83 23.45 L535.19 23.54 L535.55 23.55 L535.91 23.55 L536.26 23.55 L536.62 23.55 L536.98 23.55 L537.34 23.55 L537.70 23.54 L538.06 23.49 L538.42 23.25 L538.78 22.63 L539.14 21.75 L539.50 21.02 L539.86 20.70 L540.22 20.65 L540.58 20.71 L540.94 21.08 L541.29 21.84 L541.65 22.71 L542.01 23.28 L542.37 23.50 L542.73 23.55 L543.09 23.55 L543.45 23.55 L543.81 23.55 L544.17 23.55 L544.53 23.55 L544.89 23.55 L545.25 23.53 L545.61 23.43 L545.97 23.05 L546.33 22.29 L546.68 21.42 L547.04 20.84 L547.40 20.66 L547.76 20.65 L548.12 20.81 L548.48 21.34 L548.84 22.20 L549.20 22.99 L549.56 23.41 L549.92 23.53 L550.28 23.55 L550.64 23.55 L551.00 23.55 L551.36 23.55 L551.71 23.55 L552.07 23.55 L552.43 23.55 L552.79 23.51 L553.15 23.32 L553.51 22.78 L553.87 21.92 L554.23 21.14 L554.59 20.73 L554.95 20.65 L555.31 20.68 L555.67 20.97 L556.03 21.67 L556.38 22.55 L556.74 23.20 L557.10 23.48 L557.46 23.54 L557.82 23.55 L558.18 23.55 L558.54 23.55 L558.90 23.55" fill="none" stroke="#2c362c" stroke-width="0.85"/>
<rect x="508.60" y="0.60" width="50.30" height="29.30" fill="none" stroke="#2a2aa6" stroke-width="1.3"/>
<path d="M508.60 67.09 L509.32 66.76 L510.04 66.33 L510.76 65.82 L511.47 65.24 L512.19 64.61 L512.91 63.94 L513.63 63.25 L514.35 62.56 L515.07 61.89 L515.79 61.26 L516.50 60.69 L517.22 60.19 L517.94 59.78 L518.66 59.46 L519.38 59.25 L520.10 59.16 L520.82 59.17 L521.53 59.31 L522.25 59.55 L522.97 59.89 L523.69 60.33 L524.41 60.86 L525.13 61.45 L525.85 62.09 L526.56 62.76 L527.28 63.45 L528.00 64.14 L528.72 64.80 L529.44 65.42 L530.16 65.98 L530.88 66.47 L531.59 66.87 L532.31 67.17 L533.03 67.37 L533.75 67.45 L534.47 67.41 L535.19 67.27 L535.91 67.01 L536.62 66.65 L537.34 66.20 L538.06 65.66 L538.78 65.07 L539.50 64.42 L540.22 63.74 L540.94 63.05 L541.65 62.37 L542.37 61.71 L543.09 61.09 L543.81 60.54 L544.53 60.07 L545.25 59.68 L545.97 59.39 L546.68 59.22 L547.40 59.15 L548.12 59.20 L548.84 59.36 L549.56 59.64 L550.28 60.01 L551.00 60.48 L551.71 61.02 L552.43 61.62 L553.15 62.28 L553.87 62.96 L554.59 63.65 L555.31 64.33 L556.03 64.98 L556.74 65.59 L557.46 66.13 L558.18 66.59 L558.90 66.97 L558.90 74.20 L508.60 74.20 Z" fill="#5dac5d"/>
<path d="M508.60 67.09 L509.32 66.76 L510.04 66.33 L510.76 65.82 L511.47 65.24 L512.19 64.61 L512.91 63.94 L513.63 63.25 L514.35 62.56 L515.07 61.89 L515.79 61.26 L516.50 60.69 L517.22 60.19 L517.94 59.78 L518.66 59.46 L519.38 59.25 L520.10 59.16 L520.82 59.17 L521.53 59.31 L522.25 59.55 L522.97 59.89 L523.69 60.33 L524.41 60.86 L525.13 61.45 L525.85 62.09 L526.56 62.76 L527.28 63.45 L528.00 64.14 L528.72 64.80 L529.44 65.42 L530.16 65.98 L530.88 66.47 L531.59 66.87 L532.31 67.17 L533.03 67.37 L533.75 67.45 L534.47 67.41 L535.19 67.27 L535.91 67.01 L536.62 66.65 L537.34 66.20 L538.06 65.66 L538.78 65.07 L539.50 64.42 L540.22 63.74 L540.94 63.05 L541.65 62.37 L542.37 61.71 L543.09 61.09 L543.81 60.54 L544.53 60.07 L545.25 59.68 L545.97 59.39 L546.68 59.22 L547.40 59.15 L548.12 59.20 L548.84 59.36 L549.56 59.64 L550.28 60.01 L551.00 60.48 L551.71 61.02 L552.43 61.62 L553.15 62.28 L553.87 62.96 L554.59 63.65 L555.31 64.33 L556.03 64.98 L556.74 65.59 L557.46 66.13 L558.18 66.59 L558.90 66.97" fill="none" stroke="#3a4a38" stroke-width="0.75"/>
<rect x="508.60" y="45.60" width="50.30" height="28.60" fill="none" stroke="#2a2aa6" stroke-width="1.3"/>
<path d="M530.90 37.60 H538.60 M534.75 33.75 V41.45" stroke="#111" stroke-width="1.15" fill="none"/>
<path d="M565.50 23.43 L565.86 23.06 L566.22 22.30 L566.58 21.43 L566.94 20.85 L567.30 20.66 L567.66 20.65 L568.01 20.80 L568.37 21.33 L568.73 22.18 L569.09 22.98 L569.45 23.40 L569.81 23.53 L570.17 23.55 L570.53 23.55 L570.89 23.55 L571.25 23.55 L571.61 23.55 L571.97 23.55 L572.33 23.55 L572.69 23.51 L573.04 23.33 L573.40 22.79 L573.76 21.94 L574.12 21.15 L574.48 20.73 L574.84 20.65 L575.20 20.68 L575.56 20.97 L575.92 21.65 L576.28 22.54 L576.64 23.20 L577.00 23.48 L577.36 23.54 L577.72 23.55 L578.07 23.55 L578.43 23.55 L578.79 23.55 L579.15 23.55 L579.51 23.55 L579.87 23.54 L580.23 23.47 L580.59 23.16 L580.95 22.47 L581.31 21.59 L581.67 20.93 L582.03 20.67 L582.39 20.65 L582.75 20.75 L583.11 21.20 L583.46 22.01 L583.82 22.85 L584.18 23.35 L584.54 23.52 L584.90 23.55 L585.26 23.55 L585.62 23.55 L585.98 23.55 L586.34 23.55 L586.70 23.55 L587.06 23.55 L587.42 23.53 L587.78 23.38 L588.13 22.93 L588.49 22.11 L588.85 21.28 L589.21 20.78 L589.57 20.65 L589.93 20.66 L590.29 20.88 L590.65 21.49 L591.01 22.37 L591.37 23.10 L591.73 23.45 L592.09 23.54 L592.45 23.55 L592.81 23.55 L593.16 23.55 L593.52 23.55 L593.88 23.55 L594.24 23.55 L594.60 23.54 L594.96 23.49 L595.32 23.25 L595.68 22.63 L596.04 21.75 L596.40 21.02 L596.76 20.70 L597.12 20.65 L597.48 20.71 L597.84 21.08 L598.19 21.84 L598.55 22.71 L598.91 23.28 L599.27 23.50 L599.63 23.55 L599.99 23.55 L600.35 23.55 L600.71 23.55 L601.07 23.55 L601.43 23.55 L601.79 23.55 L602.15 23.53 L602.51 23.43 L602.87 23.05 L603.23 22.29 L603.58 21.42 L603.94 20.84 L604.30 20.66 L604.66 20.65 L605.02 20.81 L605.38 21.34 L605.74 22.20 L606.10 22.99 L606.46 23.41 L606.82 23.53 L607.18 23.55 L607.54 23.55 L607.90 23.55 L608.25 23.55 L608.61 23.55 L608.97 23.55 L609.33 23.55 L609.69 23.51 L610.05 23.32 L610.41 22.78 L610.77 21.92 L611.13 21.14 L611.49 20.73 L611.85 20.65 L612.21 20.68 L612.57 20.97 L612.93 21.67 L613.28 22.55 L613.64 23.20 L614.00 23.48 L614.36 23.54 L614.72 23.55 L615.08 23.55 L615.44 23.55 L615.80 23.55 L615.80 25.00 L565.50 25.00 Z" fill="#68bb68"/>
<path d="M565.50 23.43 L565.86 23.06 L566.22 22.30 L566.58 21.43 L566.94 20.85 L567.30 20.66 L567.66 20.65 L568.01 20.80 L568.37 21.33 L568.73 22.18 L569.09 22.98 L569.45 23.40 L569.81 23.53 L570.17 23.55 L570.53 23.55 L570.89 23.55 L571.25 23.55 L571.61 23.55 L571.97 23.55 L572.33 23.55 L572.69 23.51 L573.04 23.33 L573.40 22.79 L573.76 21.94 L574.12 21.15 L574.48 20.73 L574.84 20.65 L575.20 20.68 L575.56 20.97 L575.92 21.65 L576.28 22.54 L576.64 23.20 L577.00 23.48 L577.36 23.54 L577.72 23.55 L578.07 23.55 L578.43 23.55 L578.79 23.55 L579.15 23.55 L579.51 23.55 L579.87 23.54 L580.23 23.47 L580.59 23.16 L580.95 22.47 L581.31 21.59 L581.67 20.93 L582.03 20.67 L582.39 20.65 L582.75 20.75 L583.11 21.20 L583.46 22.01 L583.82 22.85 L584.18 23.35 L584.54 23.52 L584.90 23.55 L585.26 23.55 L585.62 23.55 L585.98 23.55 L586.34 23.55 L586.70 23.55 L587.06 23.55 L587.42 23.53 L587.78 23.38 L588.13 22.93 L588.49 22.11 L588.85 21.28 L589.21 20.78 L589.57 20.65 L589.93 20.66 L590.29 20.88 L590.65 21.49 L591.01 22.37 L591.37 23.10 L591.73 23.45 L592.09 23.54 L592.45 23.55 L592.81 23.55 L593.16 23.55 L593.52 23.55 L593.88 23.55 L594.24 23.55 L594.60 23.54 L594.96 23.49 L595.32 23.25 L595.68 22.63 L596.04 21.75 L596.40 21.02 L596.76 20.70 L597.12 20.65 L597.48 20.71 L597.84 21.08 L598.19 21.84 L598.55 22.71 L598.91 23.28 L599.27 23.50 L599.63 23.55 L599.99 23.55 L600.35 23.55 L600.71 23.55 L601.07 23.55 L601.43 23.55 L601.79 23.55 L602.15 23.53 L602.51 23.43 L602.87 23.05 L603.23 22.29 L603.58 21.42 L603.94 20.84 L604.30 20.66 L604.66 20.65 L605.02 20.81 L605.38 21.34 L605.74 22.20 L606.10 22.99 L606.46 23.41 L606.82 23.53 L607.18 23.55 L607.54 23.55 L607.90 23.55 L608.25 23.55 L608.61 23.55 L608.97 23.55 L609.33 23.55 L609.69 23.51 L610.05 23.32 L610.41 22.78 L610.77 21.92 L611.13 21.14 L611.49 20.73 L611.85 20.65 L612.21 20.68 L612.57 20.97 L612.93 21.67 L613.28 22.55 L613.64 23.20 L614.00 23.48 L614.36 23.54 L614.72 23.55 L615.08 23.55 L615.44 23.55 L615.80 23.55" fill="none" stroke="#2c362c" stroke-width="0.85"/>
<rect x="565.50" y="0.60" width="50.30" height="29.30" fill="none" stroke="#2a2aa6" stroke-width="1.3"/>
<path d="M565.50 67.45 L566.22 67.43 L566.94 67.40 L567.66 67.30 L568.37 67.09 L569.09 66.68 L569.81 65.96 L570.53 64.85 L571.25 63.30 L571.97 61.36 L572.69 59.16 L573.40 56.91 L574.12 54.81 L574.84 53.05 L575.56 51.72 L576.28 50.85 L577.00 50.37 L577.72 50.18 L578.43 50.15 L579.15 50.17 L579.87 50.32 L580.59 50.73 L581.31 51.53 L582.03 52.77 L582.75 54.46 L583.46 56.50 L584.18 58.74 L584.90 60.97 L585.62 62.97 L586.34 64.60 L587.06 65.79 L587.78 66.58 L588.49 67.04 L589.21 67.28 L589.93 67.38 L590.65 67.42 L591.37 67.43 L592.09 67.40 L592.81 67.31 L593.52 67.11 L594.24 66.72 L594.96 66.03 L595.68 64.94 L596.40 63.42 L597.12 61.50 L597.84 59.32 L598.55 57.06 L599.27 54.95 L599.99 53.16 L600.71 51.80 L601.43 50.89 L602.15 50.39 L602.87 50.19 L603.58 50.15 L604.30 50.16 L605.02 50.30 L605.74 50.69 L606.46 51.46 L607.18 52.67 L607.90 54.33 L608.61 56.35 L609.33 58.59 L610.05 60.82 L610.77 62.84 L611.49 64.50 L612.21 65.72 L612.93 66.53 L613.64 67.01 L614.36 67.26 L615.08 67.38 L615.80 67.43 L615.80 74.20 L565.50 74.20 Z" fill="#5dac5d"/>
<path d="M565.50 67.45 L566.22 67.43 L566.94 67.40 L567.66 67.30 L568.37 67.09 L569.09 66.68 L569.81 65.96 L570.53 64.85 L571.25 63.30 L571.97 61.36 L572.69 59.16 L573.40 56.91 L574.12 54.81 L574.84 53.05 L575.56 51.72 L576.28 50.85 L577.00 50.37 L577.72 50.18 L578.43 50.15 L579.15 50.17 L579.87 50.32 L580.59 50.73 L581.31 51.53 L582.03 52.77 L582.75 54.46 L583.46 56.50 L584.18 58.74 L584.90 60.97 L585.62 62.97 L586.34 64.60 L587.06 65.79 L587.78 66.58 L588.49 67.04 L589.21 67.28 L589.93 67.38 L590.65 67.42 L591.37 67.43 L592.09 67.40 L592.81 67.31 L593.52 67.11 L594.24 66.72 L594.96 66.03 L595.68 64.94 L596.40 63.42 L597.12 61.50 L597.84 59.32 L598.55 57.06 L599.27 54.95 L599.99 53.16 L600.71 51.80 L601.43 50.89 L602.15 50.39 L602.87 50.19 L603.58 50.15 L604.30 50.16 L605.02 50.30 L605.74 50.69 L606.46 51.46 L607.18 52.67 L607.90 54.33 L608.61 56.35 L609.33 58.59 L610.05 60.82 L610.77 62.84 L611.49 64.50 L612.21 65.72 L612.93 66.53 L613.64 67.01 L614.36 67.26 L615.08 67.38 L615.80 67.43" fill="none" stroke="#3a4a38" stroke-width="0.75"/>
<rect x="565.50" y="45.60" width="50.30" height="28.60" fill="none" stroke="#2a2aa6" stroke-width="1.3"/>
<path d="M585.90 37.60 H593.60 M589.75 33.75 V41.45" stroke="#111" stroke-width="1.15" fill="none"/>
<line x1="34.65" y1="91.95" x2="34.65" y2="430.85" stroke="#bcbcbc" stroke-width="1.15"/>
<line x1="34.15" y1="91.95" x2="217.10" y2="91.95" stroke="#a6a6a6" stroke-width="1.50"/>
<line x1="215.95" y1="91.95" x2="215.95" y2="431.65" stroke="#ababab" stroke-width="0.90"/>
<line x1="216.75" y1="91.25" x2="216.75" y2="431.75" stroke="#5e5e5e" stroke-width="0.95"/>
<line x1="34.15" y1="430.40" x2="217.10" y2="430.40" stroke="#707070" stroke-width="1.00"/>
<line x1="34.15" y1="431.35" x2="217.10" y2="431.35" stroke="#b8b8b8" stroke-width="0.90"/>
<line x1="251.20" y1="92.05" x2="251.20" y2="429.80" stroke="#b4b4b4" stroke-width="1.50"/>
<line x1="250.50" y1="92.05" x2="630.85" y2="92.05" stroke="#c0c0c0" stroke-width="1.60"/>
<line x1="629.95" y1="92.05" x2="629.95" y2="430.40" stroke="#b0b0b0" stroke-width="0.80"/>
<line x1="630.55" y1="91.45" x2="630.55" y2="430.10" stroke="#555555" stroke-width="0.90"/>
<line x1="250.50" y1="429.30" x2="630.85" y2="429.30" stroke="#929292" stroke-width="1.00"/>
<line x1="250.50" y1="430.30" x2="630.85" y2="430.30" stroke="#c2c2c2" stroke-width="1.00"/>
<line x1="442.90" y1="92.05" x2="442.90" y2="429.80" stroke="#a6a6a6" stroke-width="1.40"/>
<line x1="29.15" y1="105.60" x2="34.65" y2="105.60" stroke="#222" stroke-width="1.2"/>
<text x="27.75" y="109.10" font-size="10.80" text-anchor="end" fill="#111">40</text>
<line x1="29.15" y1="183.50" x2="34.65" y2="183.50" stroke="#222" stroke-width="1.2"/>
<text x="27.75" y="187.00" font-size="10.80" text-anchor="end" fill="#111">30</text>
<line x1="29.15" y1="262.20" x2="34.65" y2="262.20" stroke="#222" stroke-width="1.2"/>
<text x="27.75" y="265.70" font-size="10.80" text-anchor="end" fill="#111">20</text>
<line x1="29.15" y1="340.30" x2="34.65" y2="340.30" stroke="#222" stroke-width="1.2"/>
<text x="27.75" y="343.80" font-size="10.80" text-anchor="end" fill="#111">10</text>
<line x1="29.15" y1="418.70" x2="34.65" y2="418.70" stroke="#222" stroke-width="1.2"/>
<text x="27.75" y="422.20" font-size="10.80" text-anchor="end" fill="#111">0</text>
<line x1="245.70" y1="132.60" x2="251.20" y2="132.60" stroke="#222" stroke-width="1.2"/>
<text x="243.70" y="136.30" font-size="10.80" text-anchor="end" fill="#111">10</text>
<line x1="245.70" y1="190.30" x2="251.20" y2="190.30" stroke="#222" stroke-width="1.2"/>
<text x="243.70" y="194.00" font-size="10.80" text-anchor="end" fill="#111">8</text>
<line x1="245.70" y1="247.00" x2="251.20" y2="247.00" stroke="#222" stroke-width="1.2"/>
<text x="243.70" y="250.70" font-size="10.80" text-anchor="end" fill="#111">6</text>
<line x1="245.70" y1="303.30" x2="251.20" y2="303.30" stroke="#222" stroke-width="1.2"/>
<text x="243.70" y="307.00" font-size="10.80" text-anchor="end" fill="#111">4</text>
<line x1="245.70" y1="359.80" x2="251.20" y2="359.80" stroke="#222" stroke-width="1.2"/>
<text x="243.70" y="363.50" font-size="10.80" text-anchor="end" fill="#111">2</text>
<line x1="245.70" y1="417.30" x2="251.20" y2="417.30" stroke="#222" stroke-width="1.2"/>
<text x="243.70" y="421.00" font-size="10.80" text-anchor="end" fill="#111">0</text>
<text transform="translate(9.3 322.6) rotate(-90)" font-size="12.3" word-spacing="0.7" fill="#111" style="stroke-width:0.2px">Traction Force (mN)</text>
<path d="M69.40 236.25 V283.60 M69.40 322.70 V329.30" fill="none" stroke="#8c8c8c" stroke-width="1"/>
<path d="M58.10 236.25 H80.70 M58.10 329.30 H80.70" fill="none" stroke="#b0b0b0" stroke-width="1"/>
<rect x="47.20" y="283.60" width="45.10" height="39.10" fill="#ffffff" stroke="#b8b8b8" stroke-width="1.00"/>
<line x1="47.20" y1="311.30" x2="92.30" y2="311.30" stroke="#333" stroke-width="1.20"/>
<path d="M125.60 170.25 V203.25 M125.60 264.50 V308.75" fill="none" stroke="#8c8c8c" stroke-width="1"/>
<path d="M114.30 170.25 H136.90 M114.30 308.75 H136.90" fill="none" stroke="#b0b0b0" stroke-width="1"/>
<rect x="103.40" y="203.25" width="45.40" height="61.25" fill="#cccccc" stroke="#8a8a8a" stroke-width="1.00"/>
<line x1="103.40" y1="239.50" x2="148.80" y2="239.50" stroke="#585858" stroke-width="1.50"/>
<path d="M181.60 198.00 V216.50 M181.60 299.50 V347.50" fill="none" stroke="#8c8c8c" stroke-width="1"/>
<path d="M170.30 198.00 H192.90 M170.30 347.50 H192.90" fill="none" stroke="#b0b0b0" stroke-width="1"/>
<rect x="159.00" y="216.50" width="44.60" height="83.00" fill="#808080" stroke="#6c6c6c" stroke-width="1.00"/>
<line x1="159.00" y1="248.75" x2="203.60" y2="248.75" stroke="#454545" stroke-width="1.50"/>
<circle cx="69.25" cy="387.25" r="1.15" fill="none" stroke="#3a3a3a" stroke-width="0.75"/>
<path d="M293.30 355.30 V359.30 M293.30 375.90 V381.20" fill="none" stroke="#9a9a9a" stroke-width="1"/>
<path d="M282.00 355.30 H304.60 M282.00 381.20 H304.60" fill="none" stroke="#989898" stroke-width="1"/>
<rect x="270.20" y="359.30" width="46.20" height="16.60" fill="#ffffff" stroke="#3c3c3c" stroke-width="0.75"/>
<path d="M270.57 359.30 H316.02 M270.57 375.90 H316.02" fill="none" stroke="#7c7c7c" stroke-width="0.90"/>
<line x1="270.20" y1="366.00" x2="316.40" y2="366.00" stroke="#1c1c1c" stroke-width="1.70"/>
<path d="M350.30 319.50 V330.30 M350.30 348.70 V359.30" fill="none" stroke="#9a9a9a" stroke-width="1"/>
<path d="M339.00 319.50 H361.60 M339.00 359.30 H361.60" fill="none" stroke="#989898" stroke-width="1"/>
<rect x="327.30" y="330.30" width="45.60" height="18.40" fill="#cccccc" stroke="#3c3c3c" stroke-width="0.75"/>
<line x1="327.30" y1="344.30" x2="372.90" y2="344.30" stroke="#1c1c1c" stroke-width="1.70"/>
<path d="M407.00 314.30 V322.00 M407.00 358.40 V359.20" fill="none" stroke="#9a9a9a" stroke-width="1"/>
<path d="M395.70 314.30 H418.30 M395.70 359.20 H418.30" fill="none" stroke="#989898" stroke-width="1"/>
<rect x="384.30" y="322.00" width="45.50" height="36.40" fill="#808080" stroke="#3c3c3c" stroke-width="0.75"/>
<line x1="384.30" y1="338.50" x2="429.80" y2="338.50" stroke="#1c1c1c" stroke-width="1.70"/>
<circle cx="349.5" cy="262.5" r="1.15" fill="none" stroke="#3a3a3a" stroke-width="0.75"/>
<path d="M476.20 349.75 V353.20 M476.20 377.00 V386.25" fill="none" stroke="#a0a0a0" stroke-width="1"/>
<path d="M464.90 349.75 H487.50 M464.90 386.25 H487.50" fill="none" stroke="#b8b8b8" stroke-width="1"/>
<rect x="453.25" y="353.20" width="45.75" height="23.80" fill="#ffffff" stroke="#3c3c3c" stroke-width="0.75"/>
<path d="M453.62 353.20 H498.62 M453.62 377.00 H498.62" fill="none" stroke="#969696" stroke-width="0.90"/>
<line x1="453.25" y1="367.00" x2="499.00" y2="367.00" stroke="#1c1c1c" stroke-width="1.70"/>
<path d="M533.25 258.75 V290.50 M533.25 335.25 V363.50" fill="none" stroke="#a0a0a0" stroke-width="1"/>
<path d="M521.95 258.75 H544.55 M521.95 363.50 H544.55" fill="none" stroke="#b8b8b8" stroke-width="1"/>
<rect x="510.25" y="290.50" width="45.50" height="44.75" fill="#cccccc" stroke="#3c3c3c" stroke-width="0.75"/>
<line x1="510.25" y1="326.50" x2="555.75" y2="326.50" stroke="#1c1c1c" stroke-width="1.70"/>
<path d="M590.00 152.75 V268.25 M590.00 349.25 V360.50" fill="none" stroke="#a0a0a0" stroke-width="1"/>
<path d="M578.70 152.75 H601.30 M578.70 360.50 H601.30" fill="none" stroke="#b8b8b8" stroke-width="1"/>
<rect x="567.25" y="268.25" width="45.75" height="81.00" fill="#808080" stroke="#3c3c3c" stroke-width="0.75"/>
<line x1="567.25" y1="338.50" x2="613.00" y2="338.50" stroke="#1c1c1c" stroke-width="1.70"/>
<text x="69.20" y="117.10" font-size="11.80" text-anchor="middle" fill="#111" >a</text>
<text x="124.90" y="117.10" font-size="11.80" text-anchor="middle" fill="#111" >b</text>
<text x="184.50" y="117.10" font-size="11.80" text-anchor="middle" fill="#111" >ab</text>
<text x="293.40" y="117.10" font-size="11.80" text-anchor="middle" fill="#111" >a'</text>
<text x="350.10" y="117.10" font-size="11.80" text-anchor="middle" fill="#111" >b'</text>
<text x="408.00" y="117.10" font-size="11.80" text-anchor="middle" fill="#111" >b'</text>
<text x="479.00" y="117.10" font-size="11.80" text-anchor="middle" fill="#111" >a&quot;</text>
<text x="534.60" y="117.10" font-size="11.80" text-anchor="middle" fill="#111" >b&quot;</text>
<text x="592.20" y="117.10" font-size="11.80" text-anchor="middle" fill="#111" >b&quot;</text>
<text x="71.20" y="446.40" font-size="11.45" text-anchor="middle" fill="#111" word-spacing="1.6">M. gra.</text>
<text x="127.90" y="446.40" font-size="11.45" text-anchor="middle" fill="#111" word-spacing="3.6">P. off.</text>
<text x="183.20" y="446.40" font-size="11.45" text-anchor="middle" fill="#111" word-spacing="1.9">C. zeb.</text>
<text x="295.90" y="446.40" font-size="11.45" text-anchor="middle" fill="#111" word-spacing="1.9">D. kaki</text>
<text x="351.60" y="446.40" font-size="11.45" text-anchor="middle" fill="#111" word-spacing="3.2">P. suff.</text>
<text x="408.90" y="446.40" font-size="11.45" text-anchor="middle" fill="#111" word-spacing="1.6">C. esc.</text>
<text x="479.00" y="446.40" font-size="11.45" text-anchor="middle" fill="#111" word-spacing="1.0">H. bras.</text>
<text x="535.80" y="446.40" font-size="11.45" text-anchor="middle" fill="#111" word-spacing="3.8">V. vin.</text>
<text x="589.30" y="446.40" font-size="11.45" text-anchor="middle" fill="#111" word-spacing="0.0">Rosa</text>
<text y="467.0" font-size="11.6" fill="#111"><tspan x="57.40" font-style="italic">n</tspan><tspan x="65.10" font-size="9.8" dy="-0.4" stroke-width="0.5">=</tspan><tspan x="71.60" dy="0.4">8</tspan></text>
<text y="467.0" font-size="11.6" fill="#111"><tspan x="113.20" font-style="italic">n</tspan><tspan x="120.90" font-size="9.8" dy="-0.4" stroke-width="0.5">=</tspan><tspan x="127.40" dy="0.4">8</tspan></text>
<text y="467.0" font-size="11.6" fill="#111"><tspan x="165.10" font-style="italic">n</tspan><tspan x="172.80" font-size="9.8" dy="-0.4" stroke-width="0.5">=</tspan><tspan x="179.30" dy="0.4">10</tspan></text>
<text y="467.0" font-size="11.6" fill="#111"><tspan x="280.20" font-style="italic">n</tspan><tspan x="287.90" font-size="9.8" dy="-0.4" stroke-width="0.5">=</tspan><tspan x="294.40" dy="0.4">6</tspan></text>
<text y="467.0" font-size="11.6" fill="#111"><tspan x="337.00" font-style="italic">n</tspan><tspan x="344.70" font-size="9.8" dy="-0.4" stroke-width="0.5">=</tspan><tspan x="351.20" dy="0.4">9</tspan></text>
<text y="467.0" font-size="11.6" fill="#111"><tspan x="394.50" font-style="italic">n</tspan><tspan x="402.20" font-size="9.8" dy="-0.4" stroke-width="0.5">=</tspan><tspan x="408.70" dy="0.4">7</tspan></text>
<text y="467.0" font-size="11.6" fill="#111"><tspan x="464.70" font-style="italic">n</tspan><tspan x="472.40" font-size="9.8" dy="-0.4" stroke-width="0.5">=</tspan><tspan x="478.90" dy="0.4">8</tspan></text>
<text y="467.0" font-size="11.6" fill="#111"><tspan x="520.50" font-style="italic">n</tspan><tspan x="528.20" font-size="9.8" dy="-0.4" stroke-width="0.5">=</tspan><tspan x="534.70" dy="0.4">8</tspan></text>
<text y="467.0" font-size="11.6" fill="#111"><tspan x="577.50" font-style="italic">n</tspan><tspan x="585.20" font-size="9.8" dy="-0.4" stroke-width="0.5">=</tspan><tspan x="591.70" dy="0.4">11</tspan></text>
</svg>
</body></html>
